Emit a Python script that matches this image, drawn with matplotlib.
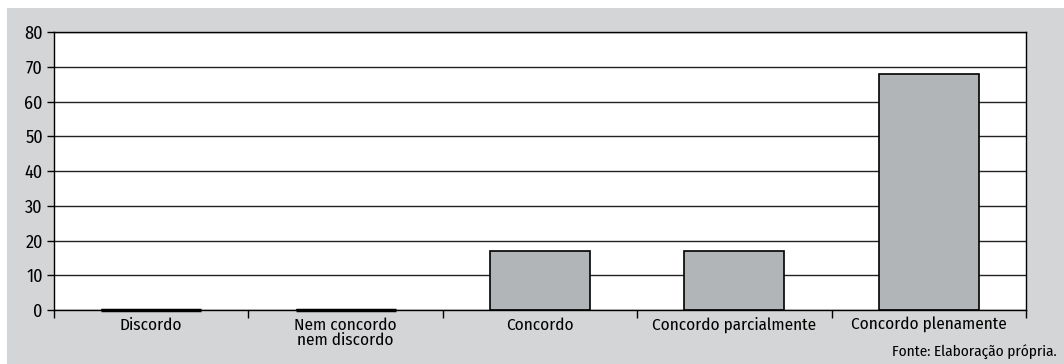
import matplotlib.pyplot as plt
import matplotlib.patches as mpatches
import numpy as np

# Dados
categorias = ["Discordo", "Nem concordo\nnem discordo", "Concordo",
              "Concordo parcialmente", "Concordo plenamente"]
valores = [0, 0, 17, 17, 68]
yticks = [0, 10, 20, 30, 40, 50, 60, 70, 80]
fonte = "Fonte: Elaboração própria."

plt.rcParams["font.family"] = ["Fira Sans Condensed", "DejaVu Sans"]
plt.rcParams["font.weight"] = "normal"

fig = plt.figure(figsize=(10.64, 3.64), dpi=100, facecolor="white")
# Fundo cinza do quadro
fundo = mpatches.Rectangle((7 / 1064, 0), 1 - 7 / 1064, 1 - 8 / 364,
                           transform=fig.transFigure, facecolor="#d4d5d6",
                           edgecolor="none", zorder=-10)
fig.patches.append(fundo)

ax = fig.add_axes([54 / 1064, 1 - 310 / 364, (1026 - 54) / 1064, (310 - 32) / 364])
ax.set_facecolor("white")

x = np.arange(len(categorias))
larg = 0.515
ax.bar(x, valores, width=larg, color="#b2b5b8", edgecolor="black", linewidth=1.2, zorder=3)
# barras com valor zero aparecem como traço grosso
for xi, v in zip(x, valores):
    if v == 0:
        ax.plot([xi - larg / 2, xi + larg / 2], [0, 0], color="black", linewidth=2.5,
                solid_capstyle="butt", zorder=4, clip_on=False)

ax.set_xlim(-0.5, len(categorias) - 0.5)
ax.set_ylim(0, 80)
ax.set_yticks(yticks)
ax.set_yticklabels([str(t) for t in yticks], fontsize=13)
ax.yaxis.grid(True, color="#222222", linewidth=1.0, zorder=1)
ax.set_axisbelow(True)

ax.set_xticks(np.arange(-0.5, len(categorias)))
ax.set_xticklabels([])
ax.set_xticks(x, minor=True)
ax.set_xticklabels(categorias, minor=True, fontsize=12.3, linespacing=0.95)
ax.tick_params(axis="x", which="minor", length=0, pad=5)
ax.tick_params(axis="x", which="major", length=6, width=1, direction="out")
ax.tick_params(axis="y", length=5, width=1, direction="out", pad=3)

for s in ["left", "bottom", "right", "top"]:
    ax.spines[s].set_color("black")
    ax.spines[s].set_linewidth(1.0)
ax.spines["bottom"].set_zorder(5)

fig.text(1057 / 1064, 1 - 352 / 364, fonte, ha="right", va="center", fontsize=11)

fig.savefig("out.png", dpi=100, facecolor=fig.get_facecolor())
